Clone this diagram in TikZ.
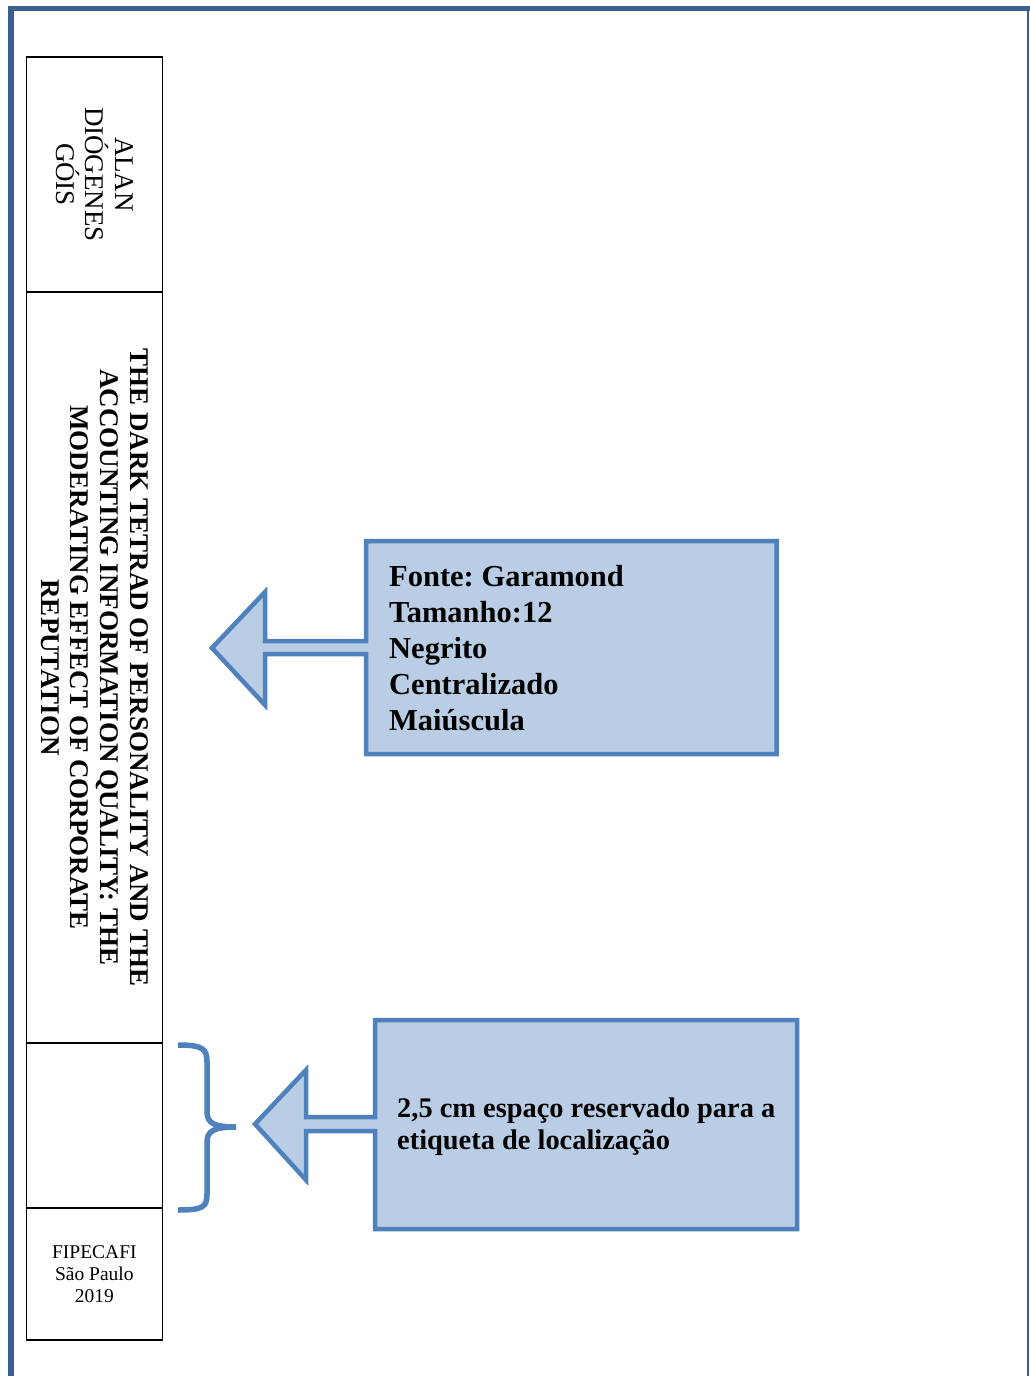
\documentclass[tikz,border=0pt]{standalone}
\usepackage{fontspec}
\setmainfont{Liberation Serif}
\frenchspacing
\definecolor{framec}{HTML}{3B5F8E}
\definecolor{calloutline}{HTML}{4F81BD}
\definecolor{calloutfill}{HTML}{B9CDE5}
\begin{document}
\frenchspacing
\begin{tikzpicture}[x=1pt,y=-1pt,
  spinebox/.style={draw=black, line width=1.3pt, minimum width=136pt, inner sep=0pt, outer sep=0pt},
  callout/.style={draw=calloutline, fill=calloutfill, line width=4.5pt, line join=miter},
  bracestyle/.style={draw=calloutline, line width=5.5pt, line cap=butt},
  spinetext/.style={rotate=-90, align=center, inner sep=0pt},
  calltext/.style={anchor=west, align=left, inner sep=0pt}]
\useasboundingbox (0,0) rectangle (1030,1376);
\fill[white] (0,0) rectangle (1030,1376);
% outer frame
\draw[framec, line width=6pt] (11,1376) -- (11,6);
\draw[framec, line width=5pt] (8,8.5) -- (1030,8.5);
\draw[framec, line width=2.5pt] (1028,6) -- (1028,1376);
% spine sections
\node[spinebox, minimum height=235pt] (sec1) at (94.4,174.5) {};
\node[spinebox, minimum height=751pt] (sec2) at (94.4,667.5) {};
\node[spinebox, minimum height=165pt] (sec3) at (94.4,1125.5) {};
\node[spinebox, minimum height=132pt] (sec4) at (94.4,1274) {};
% spine texts
\node[spinetext, font=\fontsize{27}{29.5}\selectfont] (author) at (sec1.center) {ALAN\\DIÓGENES\\GÓIS};
\node[spinetext, font=\bfseries\fontsize{27}{29.7}\selectfont] (title) at (sec2.center) {THE DARK TETRAD OF PERSONALITY AND THE\\ACCOUNTING INFORMATION QUALITY: THE\\MODERATING EFFECT OF CORPORATE\\REPUTATION};
\node[align=center, inner sep=0pt, font=\fontsize{19.5}{22}\selectfont] (inst) at (sec4.center) {FIPECAFI\\São Paulo\\2019};
% callout 1
\draw[callout] (366,541) -- (776.5,541) -- (776.5,754) -- (366,754) -- (366,654) -- (265,654) -- (265,705) -- (212,648) -- (265,592) -- (265,641) -- (366,641) -- cycle;
\node[calltext, font=\bfseries\fontsize{30.5}{36}\selectfont] (t1) at (389,648) {Fonte: Garamond\\Tamanho:12\\Negrito\\Centralizado\\Maiúscula};
% callout 2
\draw[callout] (375,1020) -- (797,1020) -- (797,1229) -- (375,1229) -- (375,1131) -- (306,1131) -- (306,1180) -- (255,1124) -- (306,1070) -- (306,1117) -- (375,1117) -- cycle;
\node[calltext, font=\bfseries\fontsize{28.4}{32}\selectfont] (t2) at (397,1127) {2,5 cm espaço reservado para a\\etiqueta de localização};
% brace
\draw[bracestyle] (178,1045) .. controls (203,1045) and (207,1049) .. (207,1062) -- (207,1112) .. controls (207,1123) and (214,1127) .. (236,1127);
\draw[bracestyle] (236,1127) .. controls (214,1127) and (207,1131) .. (207,1142) -- (207,1194) .. controls (207,1207) and (203,1210) .. (178,1210);
\end{tikzpicture}
\end{document}
